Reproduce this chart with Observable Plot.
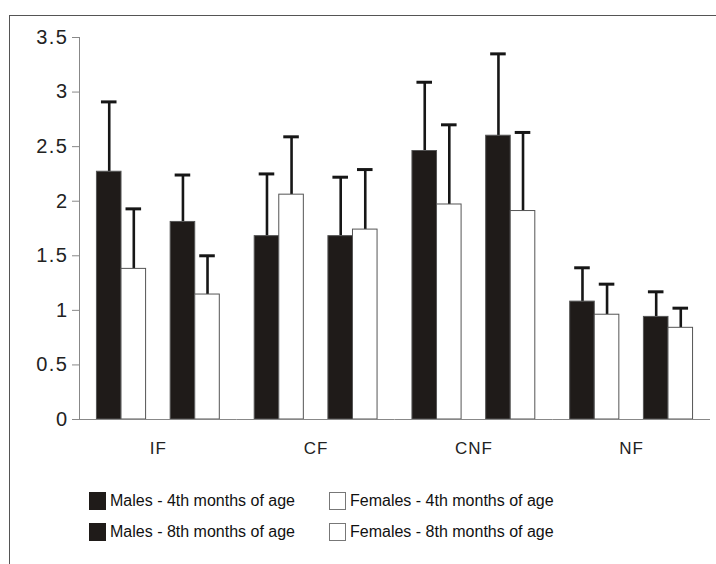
<!DOCTYPE html>
<html>
<head>
<meta charset="utf-8">
<script src="https://cdn.jsdelivr.net/npm/d3@7"></script>
<script src="https://cdn.jsdelivr.net/npm/@observablehq/plot@0.6"></script>
<style>
  html, body { margin: 0; padding: 0; background: #fff; }
  #wrap { position: relative; width: 716px; height: 564px; overflow: hidden; font-family: "Liberation Sans", Arial, sans-serif; }
  #frame { position: absolute; left: 9px; top: 15px; width: 800px; height: 700px; border-top: 1px solid #555; border-left: 1px solid #555; }
  #chart { position: absolute; left: 0; top: 0; }
  g[aria-label="y-axis tick label"] text { letter-spacing: 1.5px; }
  g[aria-label="fx-axis tick label"] text { letter-spacing: 1px; }
  .legend { position: absolute; font-size: 16px; color: #111; line-height: 18px; white-space: nowrap; }
  .sw { position: absolute; width: 17px; height: 18px; box-sizing: border-box; }
</style>
</head>
<body>
<div id="wrap">
  <div id="frame"></div>
  <div id="chart"></div>
  <div id="legend"></div>
</div>
<script>
const groups = ["IF", "CF", "CNF", "NF"];
const series = ["Males - 4th months of age", "Females - 4th months of age", "Males - 8th months of age", "Females - 8th months of age"];
const slots = [series[0], series[1], "", series[2], series[3]];
// mean values per series, in group order
const males4 = [2.27, 1.68, 2.46, 1.08];
const females4 = [1.38, 2.06, 1.97, 0.96];
const males8 = [1.81, 1.68, 2.60, 0.94];
const females8 = [1.145, 1.74, 1.91, 0.84];
// standard deviations (upper error bar length)
const males4Sd = [0.64, 0.57, 0.63, 0.31];
const females4Sd = [0.55, 0.53, 0.73, 0.28];
const males8Sd = [0.43, 0.54, 0.75, 0.23];
const females8Sd = [0.355, 0.55, 0.72, 0.18];
const yTicks = [0, 0.5, 1, 1.5, 2, 2.5, 3, 3.5];

const means = [males4, females4, males8, females8];
const sds = [males4Sd, females4Sd, males8Sd, females8Sd];
const rows = [];
groups.forEach((g, gi) => {
  series.forEach((s, si) => {
    rows.push({group: g, series: s, value: means[si][gi], top: means[si][gi] + sds[si][gi]});
  });
});

const fills = ["#1f1b19", "#ffffff", "#1f1b19", "#ffffff"];

const plot = Plot.plot({
  width: 716,
  height: 470,
  marginLeft: 79,
  marginRight: 6,
  marginTop: 37,
  marginBottom: 51,
  style: {fontFamily: "'Liberation Sans', Arial, sans-serif", background: "transparent", color: "#222"},
  fx: {domain: groups, padding: 0, label: null, round: false},
  x: {domain: slots, paddingInner: 0, paddingOuter: 0.71, axis: null, round: false},
  y: {domain: [0, 3.5], label: null},
  color: {domain: series, range: fills},
  marks: [
    Plot.axisY({ticks: yTicks, tickSize: 7, tickPadding: 4, fontSize: 20, stroke: "#888", tickFormat: d => `${d}`, label: null}),
    Plot.axisFx({anchor: "bottom", tickSize: 0, tickPadding: 22, fontSize: 17, label: null}),
    Plot.frame({anchor: "left", facetAnchor: "left", stroke: "#888"}),
    Plot.ruleX(rows, {fx: "group", x: "series", y1: "value", y2: "top", stroke: "#161616", strokeWidth: 2.6}),
    Plot.tickY(rows, {fx: "group", x: "series", y: "top", stroke: "#161616", strokeWidth: 3, insetLeft: 4.5, insetRight: 4.5}),
    Plot.barY(rows, {fx: "group", x: "series", y: "value", fill: "series", stroke: "#555", strokeWidth: 1}),
    Plot.ruleY([0], {stroke: "#888", strokeWidth: 1.2})
  ]
});
document.getElementById("chart").appendChild(plot);

// legend (HTML) built from the series list
const legendPos = [
  {left: 89, top: 492, fill: fills[0], text: series[0]},
  {left: 329, top: 492, fill: fills[1], text: series[1]},
  {left: 89, top: 523, fill: fills[2], text: series[2]},
  {left: 329, top: 523, fill: fills[3], text: series[3]}
];
const lg = document.getElementById("legend");
legendPos.forEach(d => {
  const sw = document.createElement("div");
  sw.className = "sw";
  sw.style.left = d.left + "px";
  sw.style.top = d.top + "px";
  sw.style.background = d.fill;
  sw.style.border = d.fill === "#ffffff" ? "1px solid #777" : "1px solid " + d.fill;
  lg.appendChild(sw);
  const t = document.createElement("div");
  t.className = "legend";
  t.style.left = (d.left + 21) + "px";
  t.style.top = (d.top) + "px";
  t.textContent = d.text;
  lg.appendChild(t);
});
</script>
</body>
</html>
